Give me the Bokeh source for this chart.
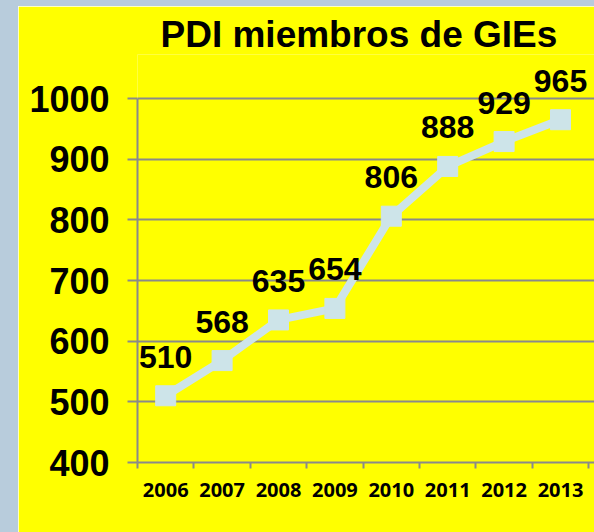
from bokeh.plotting import figure
from bokeh.layouts import row, column
from bokeh.models import ColumnDataSource, Range1d, FixedTicker, Div
from bokeh.embed import file_html
from bokeh.resources import INLINE

years = ["2006", "2007", "2008", "2009", "2010", "2011", "2012", "2013"]
members = [510, 568, 635, 654, 806, 888, 929, 965]
y_ticks = [400, 500, 600, 700, 800, 900, 1000]

xs = list(range(len(years)))
src = ColumnDataSource(dict(x=xs, y=members, lbl=[str(v) for v in members]))

YELLOW = "#FFFF00"
GRID = "#8A8A8A"
LINE = "#CDE4E9"
EDGE = "#B8CCDC"

W, H = 576, 526
left_b, top_b, bot_b = 119, 48, 70
frame_w = W - left_b
frame_h = H - top_b - bot_b
cat_px = 56.4
px_per_unit = 364 / 600.0
above_1000 = 44

p = figure(width=W, height=H, output_backend="svg", toolbar_location=None,
           x_range=Range1d(-0.5, -0.5 + frame_w / cat_px),
           y_range=Range1d(400, 1000 + above_1000 / px_per_unit),
           min_border_left=left_b, min_border_right=0,
           min_border_top=top_b, min_border_bottom=bot_b)
p.background_fill_color = YELLOW
p.border_fill_color = YELLOW
p.outline_line_color = None

p.title.text = "PDI miembros de GIEs"
p.title.text_font = "Liberation Sans"
p.title.text_font_size = "37px"
p.title.text_font_style = "bold"
p.title.align = "left"
p.title.offset = 23
p.title.standoff = 0
p.title.text_color = "black"

p.line("x", "y", source=src, line_color=LINE, line_width=8)
p.scatter("x", "y", source=src, marker="square", size=20,
          fill_color=LINE, line_color=LINE)
p.text("x", "y", text="lbl", source=src, text_align="center",
       text_baseline="alphabetic", y_offset=-39, text_font_size="32px",
       text_font_style="bold", text_color="black",
       text_font={"value": "Liberation Sans"})

# x axis
p.xgrid.visible = False
xa = p.xaxis[0]
xa.ticker = FixedTicker(ticks=xs, minor_ticks=[i - 0.5 for i in range(len(years) + 1)])
xa.major_label_overrides = {i: y for i, y in enumerate(years)}
xa.major_tick_out = 0
xa.major_tick_in = 0
xa.minor_tick_out = 6
xa.minor_tick_in = 0
xa.minor_tick_line_color = GRID
xa.minor_tick_line_width = 2
xa.axis_line_color = GRID
xa.axis_line_width = 2
xa.major_label_text_font = "Open Sans"
xa.major_label_text_font_size = "20px"
xa.major_label_text_font_style = "bold"
xa.major_label_text_color = "black"
xa.major_label_standoff = 14

# y axis
ya = p.yaxis[0]
ya.ticker = FixedTicker(ticks=y_ticks)
ya.bounds = (400, 1000)
ya.major_tick_out = 10
ya.major_tick_in = 0
ya.minor_tick_line_color = None
ya.major_tick_line_color = GRID
ya.major_tick_line_width = 2
ya.axis_line_color = GRID
ya.axis_line_width = 2
ya.major_label_text_font = "Liberation Sans"
ya.major_label_text_font_size = "36px"
ya.major_label_text_font_style = "bold"
ya.major_label_text_color = "black"
ya.major_label_standoff = 18

p.ygrid.ticker = FixedTicker(ticks=y_ticks)
p.ygrid.grid_line_color = GRID
p.ygrid.grid_line_width = 2


def edge(w, h):
    return Div(text="", width=w, height=h, margin=0,
               styles={"background-color": EDGE})


layout = column(edge(594, 6), row(edge(18, H), p, spacing=0), spacing=0)
open("out.html", "w").write(file_html(layout, INLINE))
